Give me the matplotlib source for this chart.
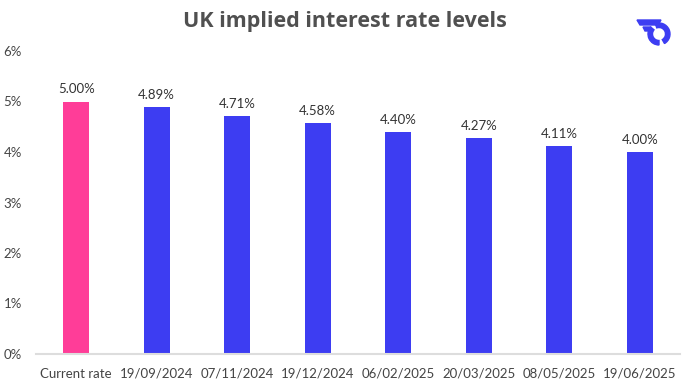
import matplotlib.pyplot as plt
from matplotlib.patches import Wedge, Polygon

plt.rcParams["font.family"] = ["Lato", "DejaVu Sans"]

# data
labels = ["Current rate", "19/09/2024", "07/11/2024", "19/12/2024",
          "06/02/2025", "20/03/2025", "08/05/2025", "19/06/2025"]
rates = [5.00, 4.89, 4.71, 4.58, 4.40, 4.27, 4.11, 4.00]
colors = ["#ff3d98"] + ["#3d3df2"] * 7

fig = plt.figure(figsize=(6.9, 3.88), dpi=100)
ax = fig.add_axes([36 / 690, 1 - 354 / 388, 644 / 690, 303 / 388])

x = range(len(labels))
ax.bar(x, rates, width=0.32, color=colors)
for i, r in zip(x, rates):
    ax.text(i, r + 0.12, "{:.2f}%".format(r), ha="center", va="bottom",
            fontsize=9.5, color="#333333")

ax.set_xlim(-0.5, 7.5)
ax.set_ylim(0, 6)
ax.set_xticks(list(x))
ax.set_xticklabels(labels)
ax.set_yticks(range(7))
ax.set_yticklabels(["{}%".format(v) for v in range(7)])
ax.tick_params(axis="both", length=0, labelsize=9.5, labelcolor="#444444")
ax.tick_params(axis="x", pad=10)
ax.tick_params(axis="y", pad=10)
for s in ["top", "right", "left"]:
    ax.spines[s].set_visible(False)
ax.spines["bottom"].set_color("#dddddd")
ax.spines["bottom"].set_linewidth(1.5)

fig.text(0.5, 1 - 21 / 388, "UK implied interest rate levels", ha="center",
         va="center", fontsize=15.5, fontweight="bold", color="#505050",
         family=["Open Sans", "DejaVu Sans"])

# logo (approximation)
lax = fig.add_axes([634 / 690, 1 - 50 / 388, 40 / 690, 36 / 388])
lax.set_xlim(0, 40)
lax.set_ylim(0, 36)
lax.axis("off")
lax.add_patch(Wedge((25, 16), 11, -60, 110, width=4.5, color="#3d3df2"))
lax.add_patch(Wedge((25, 16), 11, 140, 270, width=4.5, color="#3d3df2"))
lax.add_patch(Polygon([[3, 30], [27, 30], [24, 25], [6, 25]], color="#3d3df2"))
lax.add_patch(Polygon([[9, 23], [17, 23], [15, 19], [11, 19]], color="#3d3df2"))

plt.savefig("out.png")
